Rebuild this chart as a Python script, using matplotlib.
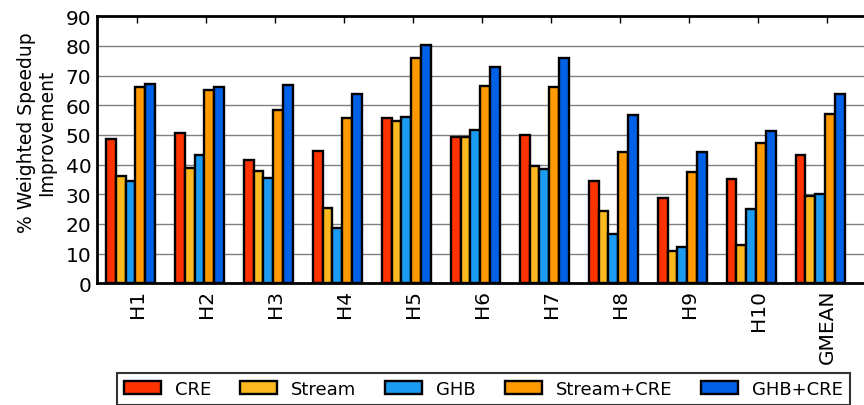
import numpy as np
import matplotlib
matplotlib.use('Agg')
import matplotlib.pyplot as plt

workloads = ['H1', 'H2', 'H3', 'H4', 'H5', 'H6', 'H7', 'H8', 'H9', 'H10', 'GMEAN']
series = ['CRE', 'Stream', 'GHB', 'Stream+CRE', 'GHB+CRE']

cre = [48.7, 50.8, 41.6, 44.6, 55.7, 49.4, 49.9, 34.6, 28.9, 35.2, 43.3]
stream = [36.1, 39.0, 37.9, 25.4, 54.7, 49.4, 39.4, 24.4, 10.8, 12.9, 29.3]
ghb = [34.4, 43.1, 35.6, 18.8, 56.0, 51.7, 38.5, 16.7, 12.2, 24.9, 30.0]
stream_cre = [66.1, 65.2, 58.4, 55.8, 75.8, 66.6, 66.1, 44.4, 37.5, 47.3, 57.1]
ghb_cre = [67.3, 66.1, 67.0, 63.7, 80.4, 73.0, 76.1, 56.9, 44.4, 51.3, 63.7]

colors = ['#ff3300', '#fbb91f', '#1b9cf2', '#ff9900', '#0060e6']

fig = plt.figure(figsize=(8.64, 4.06), dpi=100)
ax = fig.add_axes([97/864, 0.2997, 1 - 97/864, 0.6577])

ind = np.arange(len(workloads))
width = 0.142
start = 0.13
for k, (vals, c, name) in enumerate(zip([cre, stream, ghb, stream_cre, ghb_cre], colors, series)):
    ax.bar(ind + start + width * k, vals, width, align='edge', color=c,
           edgecolor='black', linewidth=1.7, label=name, zorder=3)

ax.set_ylim(0, 90)
ax.set_xlim(0, 767/68.97)
ax.set_yticks(range(0, 91, 10))
ax.set_xticks(ind + 0.584)
ax.set_xticklabels(workloads, rotation=90, fontsize=14.5)
ax.tick_params(axis='y', labelsize=14.5, direction='in', length=0, pad=4)
ax.tick_params(axis='x', direction='in', top=True, bottom=True, length=5, width=1, pad=4)
ax.yaxis.grid(True, color='#808080', linewidth=1, zorder=0)
ax.set_axisbelow(True)

for s in ['left', 'top', 'bottom']:
    ax.spines[s].set_linewidth(2)
ax.spines['right'].set_visible(False)

fig.text(0.042, 0.672, '% Weighted Speedup\nImprovement', rotation=90,
         ha='center', va='center', fontsize=13.5, linespacing=1.1)

leg = fig.legend(loc='center', bbox_to_anchor=(483.5/864, 1 - 390/406), ncol=5,
                 fontsize=13, frameon=True, fancybox=False, edgecolor='black',
                 handlelength=2.05, handleheight=0.72, columnspacing=1.6,
                 borderpad=0.4, handletextpad=0.78)
leg.get_frame().set_linewidth(1.5)

fig.savefig('out.png', dpi=100)
